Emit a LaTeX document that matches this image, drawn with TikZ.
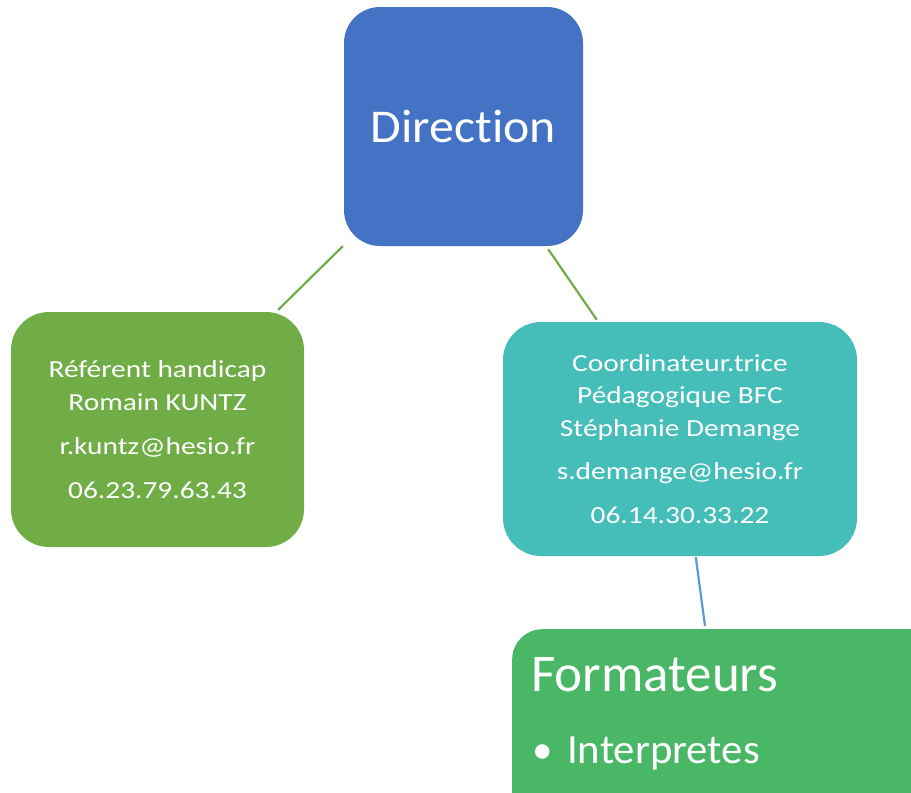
\documentclass[tikz,border=0pt]{standalone}
\usepackage{fontspec}
\setmainfont{Carlito}[Ligatures=NoCommon]
\newfontfamily\widefont{Carlito}[FakeStretch=1.2, Ligatures=NoCommon]
\newfontfamily\dirfont{Carlito}[FakeStretch=1.06, Ligatures=NoCommon]
\newfontfamily\itemfont{Carlito}[FakeStretch=1.03, Ligatures=NoCommon]
\definecolor{dirblue}{HTML}{4472C4}
\definecolor{refgreen}{HTML}{70AD47}
\definecolor{coteal}{HTML}{45BDB8}
\definecolor{formgreen}{HTML}{49B766}
\definecolor{linegreen}{HTML}{70AD47}
\definecolor{lineblue}{HTML}{5B9BD5}
\begin{document}
\begin{tikzpicture}[x=1pt,y=-1pt]
\tikzset{
  box/.style={rounded corners=36pt, inner sep=0pt, text=white},
  link/.style={line width=2.2pt},
  wtext/.style={text=white, inner sep=0pt}
}
\path[use as bounding box] (0,0) rectangle (911,793);
\clip (0,0) rectangle (911,793);
\node[box, fill=dirblue, minimum width=239pt, minimum height=239pt, font=\dirfont\fontsize{47}{56}\selectfont] (dir) at (463.5,126.5) {Direction};
\node[box, rounded corners=38pt, fill=refgreen, minimum width=293pt, minimum height=235pt, align=center, font=\widefont\fontsize{24.5}{33}\selectfont] (ref) at (157.5,429.5) {Référent handicap\\Romain KUNTZ\\[11pt]r.kuntz@hesio.fr\\[11pt]06.23.79.63.43};
\node[box, rounded corners=38pt, fill=coteal, minimum width=354pt, minimum height=234pt, align=center, font=\widefont\fontsize{24.5}{32.5}\selectfont] (coord) at (680,439) {Coordinateur.trice\\Pédagogique BFC\\Stéphanie Demange\\[11pt]s.demange@hesio.fr\\[11pt]06.14.30.33.22};
\node[box, rounded corners=30pt, fill=formgreen, minimum width=440pt, minimum height=200pt, anchor=north west] (form) at (512,629) {};
\node[wtext, anchor=base west, font=\fontsize{53}{60}\selectfont] (ftitle) at (531,691.7) {Formateurs};
\node[wtext, anchor=base west, font=\fontsize{41}{48}\selectfont] (fbullet) at (532,763) {•};
\node[wtext, anchor=base west, font=\itemfont\fontsize{41.5}{48}\selectfont] (fitem) at (567,763) {Interpretes};
\draw[link, linegreen] ([xshift=-1pt]dir.south west) -- ([xshift=-26pt,yshift=2pt]ref.north east);
\draw[link, linegreen] ([xshift=-35pt,yshift=-3pt]dir.south east) -- ([xshift=94pt,yshift=2pt]coord.north west);
\draw[link, lineblue] ([xshift=193pt,yshift=-1pt]coord.south west) -- ([xshift=193pt,yshift=3pt]form.north west);
\end{tikzpicture}
\end{document}
